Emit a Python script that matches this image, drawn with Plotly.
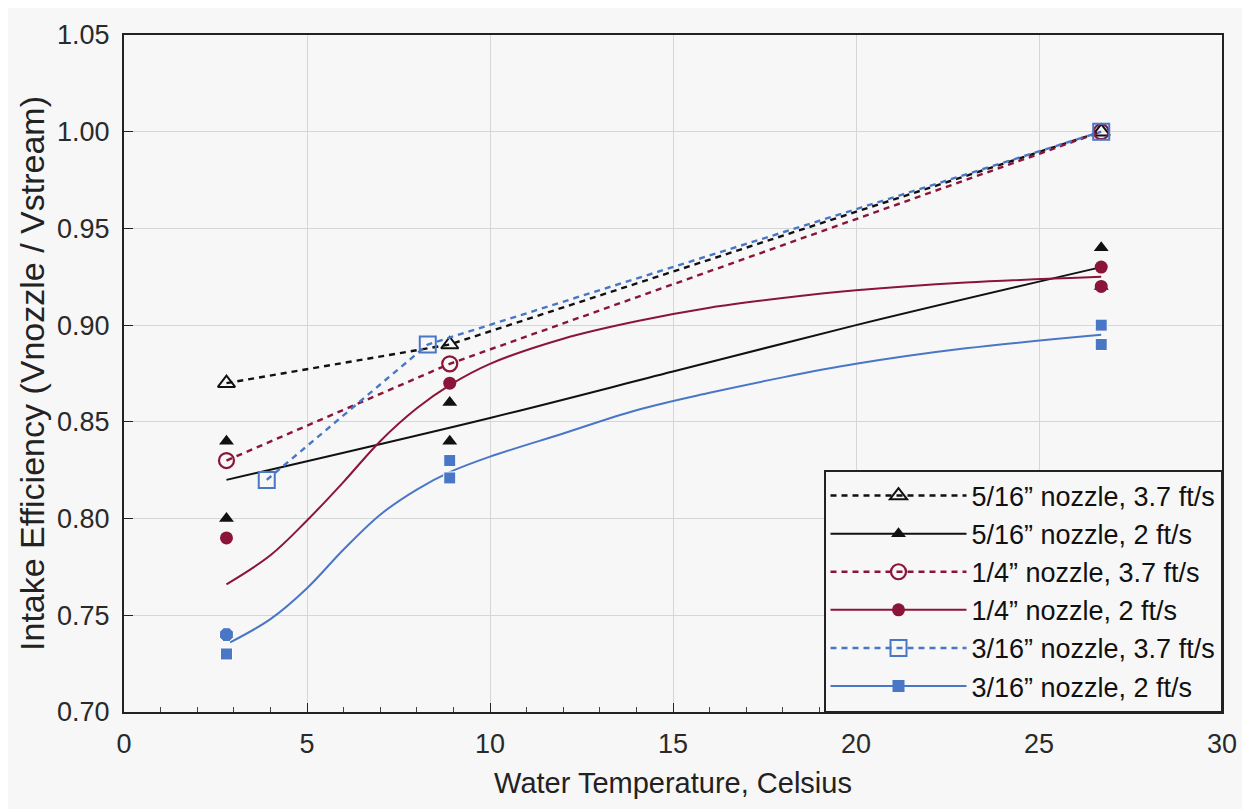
import plotly.graph_objects as go

# ---- data ----
names = ['5/16\u201d nozzle, 3.7 ft/s', '5/16\u201d nozzle, 2 ft/s',
         '1/4\u201d nozzle, 3.7 ft/s', '1/4\u201d nozzle, 2 ft/s',
         '3/16\u201d nozzle, 3.7 ft/s', '3/16\u201d nozzle, 2 ft/s']

# 3.7 ft/s series (points joined by dotted lines)
t516_fast = [2.8, 8.9, 26.7]
e516_fast = [0.870, 0.890, 1.000]
t14_fast = [2.8, 8.9, 26.7]
e14_fast = [0.830, 0.880, 1.000]
t316_fast = [3.9, 8.3, 26.7]
e316_fast = [0.820, 0.890, 1.000]

# 2 ft/s measured points
t516_slow = [2.8, 2.8, 8.9, 8.9, 26.7, 26.7]
e516_slow = [0.840, 0.800, 0.860, 0.840, 0.940, 0.920]
t14_slow = [2.8, 8.9, 26.7, 26.7]
e14_slow = [0.790, 0.870, 0.930, 0.920]
t316_slow = [2.8, 2.8, 8.9, 8.9, 26.7, 26.7]
e316_slow = [0.740, 0.730, 0.830, 0.821, 0.900, 0.890]

# 2 ft/s fitted curves
fit516_t = [2.8, 10.0, 15.0, 20.0, 26.7]
fit516_e = [0.820, 0.852, 0.876, 0.900, 0.930]
fit14_t = [2.8, 4, 5, 6, 7, 8, 8.9, 10, 12, 14, 16, 18, 20, 23, 26.7]
fit14_e = [0.766, 0.781, 0.799, 0.819, 0.840, 0.857, 0.869, 0.880, 0.893, 0.902,
           0.909, 0.914, 0.918, 0.922, 0.925]
fit316_t = [2.9, 4, 5, 6, 7, 8, 8.9, 10, 12, 14, 16, 18, 20, 23, 26.7]
fit316_e = [0.736, 0.748, 0.764, 0.784, 0.802, 0.815, 0.824, 0.832, 0.844, 0.856,
            0.865, 0.873, 0.880, 0.888, 0.895]

x_ticks = [0, 5, 10, 15, 20, 25, 30]
y_ticks = [0.70, 0.75, 0.80, 0.85, 0.90, 0.95, 1.00, 1.05]

BLACK = '#111111'
RED = '#8a1538'
BLUE = '#4a76c6'
MS = 13
DASH = '6px,5px'
FONT = 'Liberation Sans, Arial, sans-serif'

fig = go.Figure()

# legend-carrying / dotted traces
fig.add_trace(go.Scatter(x=t516_fast, y=e516_fast, mode='lines+markers', name=names[0],
                         line=dict(color=BLACK, dash=DASH, width=2.4),
                         marker=dict(symbol='triangle-up-open', size=MS + 2, color=BLACK,
                                     line=dict(width=2))))
fig.add_trace(go.Scatter(x=[None], y=[None], mode='lines+markers', name=names[1],
                         line=dict(color=BLACK, width=2),
                         marker=dict(symbol='triangle-up', size=MS, color=BLACK)))
fig.add_trace(go.Scatter(x=t14_fast, y=e14_fast, mode='lines+markers', name=names[2],
                         line=dict(color=RED, dash=DASH, width=2.4),
                         marker=dict(symbol='circle-open', size=MS + 2, color=RED,
                                     line=dict(width=2.2))))
fig.add_trace(go.Scatter(x=[None], y=[None], mode='lines+markers', name=names[3],
                         line=dict(color=RED, width=2),
                         marker=dict(symbol='circle', size=MS, color=RED)))
fig.add_trace(go.Scatter(x=[None], y=[None], mode='lines+markers', name=names[4],
                         line=dict(color=BLUE, dash=DASH, width=2.4),
                         marker=dict(symbol='square-open', size=MS + 3, color=BLUE,
                                     line=dict(width=2))))
fig.add_trace(go.Scatter(x=[None], y=[None], mode='lines+markers', name=names[5],
                         line=dict(color=BLUE, width=2),
                         marker=dict(symbol='square', size=MS - 1, color=BLUE)))

# drawings without legend entries
fig.add_trace(go.Scatter(x=fit516_t, y=fit516_e, mode='lines', showlegend=False,
                         line=dict(color=BLACK, width=2, shape='spline', smoothing=1.0)))
fig.add_trace(go.Scatter(x=fit14_t, y=fit14_e, mode='lines', showlegend=False,
                         line=dict(color=RED, width=2, shape='spline', smoothing=1.0)))
fig.add_trace(go.Scatter(x=fit316_t, y=fit316_e, mode='lines', showlegend=False,
                         line=dict(color=BLUE, width=2, shape='spline', smoothing=1.0)))
fig.add_trace(go.Scatter(x=t316_fast, y=e316_fast, mode='lines+markers', showlegend=False,
                         line=dict(color=BLUE, dash=DASH, width=2.4),
                         marker=dict(symbol='square-open', size=MS + 3, color=BLUE,
                                     line=dict(width=2))))
fig.add_trace(go.Scatter(x=t516_slow, y=e516_slow, mode='markers', showlegend=False,
                         marker=dict(symbol='triangle-up', size=MS, color=BLACK)))
fig.add_trace(go.Scatter(x=t14_slow, y=e14_slow, mode='markers', showlegend=False,
                         marker=dict(symbol='circle', size=MS, color=RED)))
fig.add_trace(go.Scatter(x=t316_slow, y=e316_slow, mode='markers', showlegend=False,
                         marker=dict(symbol=['octagon'] + ['square'] * 5,
                                     size=[MS + 2] + [MS - 1] * 5, color=BLUE,
                                     opacity=1)))

axis_common = dict(showline=True, linecolor='#222', linewidth=2, mirror=True,
                   showgrid=True, gridcolor='#d6d6d6', gridwidth=1, zeroline=False,
                   ticks='inside', ticklen=9, tickcolor='#222',
                   tickfont=dict(family=FONT, size=27, color='#2a2a2a'))

fig.update_xaxes(range=[0, 30], tickvals=x_ticks, **axis_common, ticklabelstandoff=7,
                 minor=dict(dtick=1, ticks='inside', ticklen=5, tickcolor='#444', showgrid=False),
                 title=dict(text='Water Temperature, Celsius',
                            font=dict(family=FONT, size=29, color='#222'),
                            standoff=14))
fig.update_yaxes(range=[0.70, 1.05], tickvals=y_ticks, tickformat='.2f', **axis_common,
                 ticklabelstandoff=7,
                 title=dict(text='Intake Efficiency (Vnozzle / Vstream)',
                            font=dict(family=FONT, size=34, color='#222'),
                            standoff=2))

fig.update_layout(
    width=1242, height=801,
    paper_bgcolor='#f7f7f7', plot_bgcolor='#f7f7f7',
    margin=dict(l=116, r=28, t=18, b=97),
    showlegend=True,
    legend=dict(x=1, y=0, xanchor='right', yanchor='bottom',
                bgcolor='#f7f7f7', bordercolor='#222', borderwidth=1.5,
                font=dict(family=FONT, size=27, color='#111'),
                itemwidth=136, tracegroupgap=0),
)

fig.write_html('out.html')
